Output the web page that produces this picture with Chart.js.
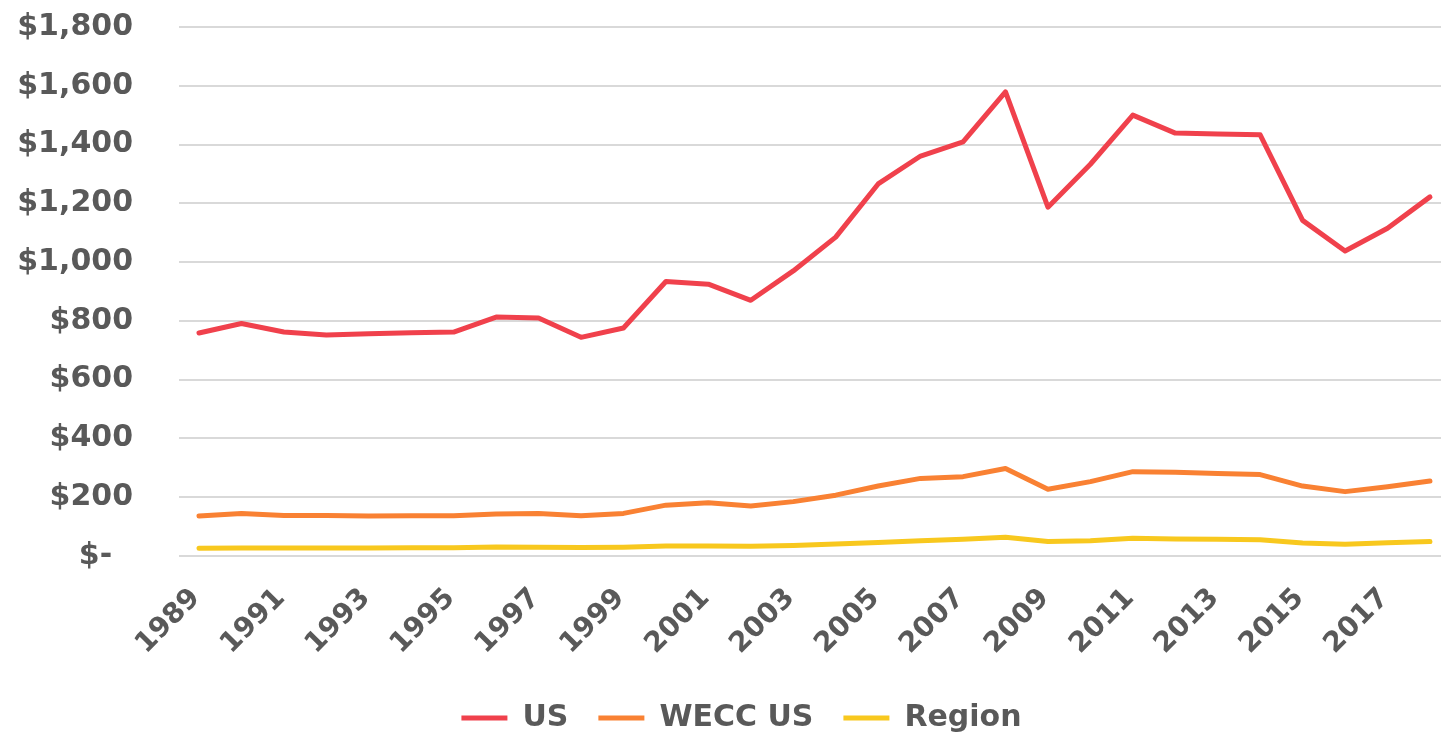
<!DOCTYPE html>
<html>
<head>
<meta charset="utf-8">
<script src="https://cdn.jsdelivr.net/npm/chart.js@4.4.1/dist/chart.umd.min.js"></script>
<style>
  html, body { margin: 0; padding: 0; background: #ffffff; overflow: hidden; }
  #wrap { width: 1441px; height: 738px; position: relative; }
</style>
</head>
<body>
<div id="wrap"><canvas id="c" width="1441" height="738"></canvas></div>
<script>
const years = [1989,1990,1991,1992,1993,1994,1995,1996,1997,1998,1999,2000,2001,2002,2003,2004,2005,2006,2007,2008,2009,2010,2011,2012,2013,2014,2015,2016,2017,2018];
const tickYears = [1989,1991,1993,1995,1997,1999,2001,2003,2005,2007,2009,2011,2013,2015,2017];
const usValues = [759,791,762,752,756,760,762,813,810,744,776,934,925,870,970,1085,1266,1361,1409,1579,1187,1333,1500,1439,1436,1433,1142,1038,1115,1222];
const weccValues = [136,145,138,138,136,137,137,143,145,137,145,173,181,170,185,207,238,264,270,298,227,253,287,285,281,277,238,219,236,255];
const regionValues = [26,27,27,27,27,28,28,31,30,29,30,34,34,33,36,41,46,52,57,64,49,52,60,58,57,55,44,40,45,49];
const yTicks = [0,200,400,600,800,1000,1200,1400,1600,1800];

const textColor = '#595959';
const fontFamily = '"DejaVu Sans", sans-serif';

function toPoints(vals) { return years.map((y, i) => ({ x: y, y: vals[i] })); }

function lineDs(label, vals, color) {
  return {
    label: label, data: toPoints(vals), borderColor: color, backgroundColor: color,
    borderWidth: 5, pointRadius: 0, pointHoverRadius: 0, tension: 0,
    borderJoinStyle: 'round', borderCapStyle: 'round', fill: false
  };
}

new Chart(document.getElementById('c'), {
  type: 'line',
  data: { datasets: [
      lineDs('US', usValues, '#F0414C'),
      lineDs('WECC US', weccValues, '#F98133'),
      lineDs('Region', regionValues, '#F8C81E') ] },
  options: {
    responsive: false, animation: false, events: [],
    layout: { padding: { top: 27, left: 0, right: -42, bottom: -5 } },
    plugins: {
      tooltip: { enabled: false },
      legend: { position: 'bottom', align: 'center',
        labels: { usePointStyle: true, pointStyle: 'line', pointStyleWidth: 46, padding: 30, color: textColor,
          font: { family: fontFamily, size: 30, weight: 'bold' } } }
    },
    scales: {
      x: { type: 'linear', min: 1988.529, max: 2018.26,
        grid: { display: false, drawTicks: false }, border: { display: false },
        afterBuildTicks: (scale) => { scale.ticks = tickYears.map(v => ({ value: v })); },
        afterFit: (scale) => { scale.height = 117; },
        ticks: { autoSkip: false, minRotation: 45, maxRotation: 45, padding: 26, labelOffset: -3, color: textColor,
          font: { family: fontFamily, size: 28, weight: 'bold' }, callback: (v) => String(v) } },
      y: { min: 0, max: 1800,
        afterBuildTicks: (scale) => { scale.ticks = yTicks.map(v => ({ value: v })); },
        afterFit: (scale) => { scale.width = 179; },
        grid: { color: '#D9D9D9', lineWidth: 2, drawTicks: true, tickLength: 46, tickColor: 'rgba(0,0,0,0)' },
        border: { display: false },
        ticks: { padding: 0, color: textColor, font: { family: fontFamily, size: 30, weight: 'bold' },
          callback: (v) => v === 0 ? '$-\u2007' : '$' + v.toLocaleString('en-US') } }
    }
  }
});
</script>
</body>
</html>
